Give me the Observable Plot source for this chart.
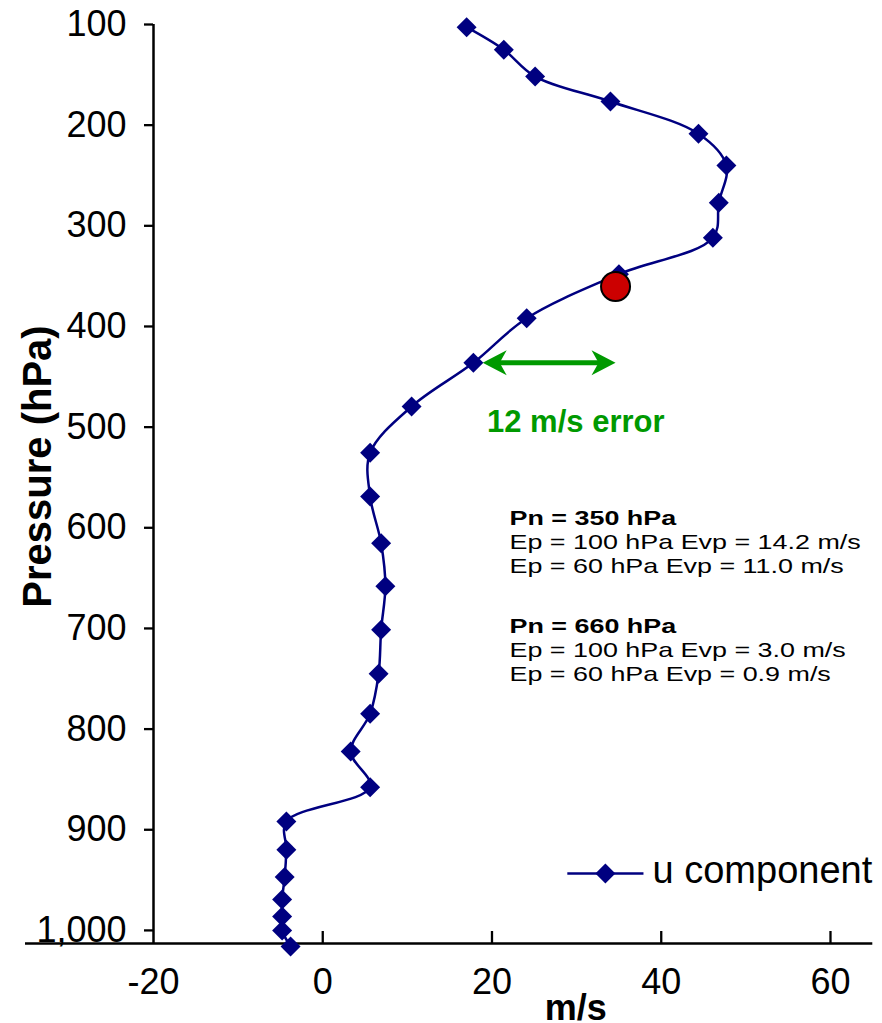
<!DOCTYPE html>
<html><head><meta charset="utf-8">
<script src="https://cdn.jsdelivr.net/npm/d3@7"></script>
<script src="https://cdn.jsdelivr.net/npm/@observablehq/plot@0.6"></script>
<style>html,body{margin:0;padding:0;background:#fff}svg{display:block}</style>
</head><body><div id="chart"></div>
<script>
// ---- data ----
const pressure = [102.7, 125.1, 151.7, 176.5, 208.6, 240.1, 277.1, 311.9, 348, 391.8, 436.1, 479.5, 525.5, 568.9, 615.3, 658, 701.3, 745, 784.7, 822.2, 857.7, 891.7, 919.8, 947, 969.2, 986.1, 1000, 1015.9];
const uComponent = [17.0, 21.4, 25.1, 34.0, 44.4, 47.7, 46.8, 46.1, 35.0, 24.1, 17.8, 10.5, 5.6, 5.6, 6.9, 7.4, 6.9, 6.6, 5.6, 3.3, 5.6, -4.3, -4.3, -4.5, -4.8, -4.8, -4.8, -3.8];
const xTicks = [-20, 0, 20, 40, 60];
const yTicks = [100, 200, 300, 400, 500, 600, 700, 800, 900, 1000];
const xDomain = [-20, 65];
const yDomain = [100, 1013];
const highlightU = [34.6];
const highlightP = [360.3];
const errorFromU = 18.9, errorToU = 34.6, errorP = 436;
const errorLabel = "12 m/s error";
const noteBlock1 = ["Pn = 350 hPa", "Ep = 100 hPa Evp = 14.2 m/s", "Ep = 60 hPa Evp = 11.0 m/s"];
const noteBlock2 = ["Pn = 660 hPa", "Ep = 100 hPa Evp = 3.0 m/s", "Ep = 60 hPa Evp = 0.9 m/s"];
const seriesName = "u component";
const xLabel = "m/s";
const yLabel = "Pressure (hPa)";

const data = pressure.map((p, i) => ({p, u: uComponent[i]}));
const navy = "#000080", green = "#009900";
const font = "'Liberation Sans', Arial, Helvetica, sans-serif";

const arrowRight = {draw(c) { c.moveTo(0, 0); c.lineTo(-24, -12.5); c.lineTo(-17, 0); c.lineTo(-24, 12.5); c.closePath(); }};
const arrowLeft = {draw(c) { c.moveTo(0, 0); c.lineTo(24, -12.5); c.lineTo(17, 0); c.lineTo(24, 12.5); c.closePath(); }};

const noteMarks = [];
const notePositions = [{block: noteBlock1, p: 597.7}, {block: noteBlock2, p: 705}];
for (const {block, p} of notePositions) {
  block.forEach((t, i) => {
    noteMarks.push(Plot.text([t], {x: 22.07, y: p, text: d => d, textAnchor: "start", lineAnchor: "bottom",
      dy: i * 24, fontSize: 21, fontWeight: i === 0 ? "bold" : "normal", fill: "black"}));
  });
}

const svg = Plot.plot({
  width: 882, height: 1023,
  marginLeft: 153, marginRight: 9.7, marginTop: 24, marginBottom: 80,
  style: {fontFamily: font, background: "white", color: "black", overflow: "visible"},
  x: {domain: xDomain, label: null},
  y: {domain: yDomain, reverse: true, label: null},
  marks: [
    Plot.axisY(yTicks, {anchor: "left", tickSize: 9, tickPadding: 18, fontSize: 36, tickFormat: d3.format(","), strokeWidth: 2.3, label: null}),
    Plot.axisX(xTicks, {anchor: "bottom", tickSize: 0, tickPadding: 25, fontSize: 36, tickFormat: d => String(d), label: null}),
    Plot.ruleX(xTicks.filter(v => v !== xDomain[0]), {y1: yDomain[1], y2: yDomain[1], insetTop: -12, stroke: "black", strokeWidth: 2.3}),
    Plot.ruleY([yDomain[1]], {insetLeft: -128, stroke: "black", strokeWidth: 2.5}),
    Plot.ruleX([xDomain[0]], {stroke: "black", strokeWidth: 2.5}),
    Plot.line(data, {x: "u", y: "p", curve: "catmull-rom", stroke: navy, strokeWidth: 2.5}),
    Plot.dot(data, {x: "u", y: "p", symbol: "diamond2", r: 9, fill: navy, stroke: "none"}),
    Plot.dot(highlightU, {x: d => d, y: (d, i) => highlightP[i], r: 14.5, fill: "#cc0000", stroke: "black", strokeWidth: 2}),
    Plot.ruleY([errorP], {x1: errorFromU, x2: errorToU, insetLeft: 14, insetRight: 14, stroke: green, strokeWidth: 5}),
    Plot.dot([errorToU], {x: d => d, y: errorP, symbol: arrowRight, fill: green, stroke: "none"}),
    Plot.dot([errorFromU], {x: d => d, y: errorP, symbol: arrowLeft, fill: green, stroke: "none"}),
    Plot.text([errorLabel], {x: 29.9, y: 505.3, text: d => d, textAnchor: "middle", lineAnchor: "bottom", fontSize: 31, fontWeight: "bold", fill: green}),
    ...noteMarks,
    // legend
    Plot.link([seriesName], {x1: 28.9, x2: 37.9, y1: 943.4, y2: 943.4, stroke: navy, strokeWidth: 2.5}),
    Plot.dot([seriesName], {x: 33.4, y: 943.4, symbol: "diamond2", r: 9, fill: navy, stroke: "none"}),
    Plot.text([seriesName], {x: 38.97, y: 953.3, text: d => d, textAnchor: "start", lineAnchor: "bottom", fontSize: 38, fill: "black"}),
    // axis titles
    Plot.text([xLabel], {x: 29.9, frameAnchor: "bottom", dy: 76, text: d => d, textAnchor: "middle", lineAnchor: "bottom", fontSize: 36, fontWeight: "bold", fill: "black"}),
    Plot.text([yLabel], {frameAnchor: "left", dx: -103, dy: -17.5, rotate: -90, text: d => d, textAnchor: "middle", lineAnchor: "bottom", fontSize: 40, fontWeight: "bold", fill: "black"})
  ]
});
document.getElementById("chart").appendChild(svg);

// the note texts are drawn horizontally stretched in the reference
const noteSet = new Set([...noteBlock1, ...noteBlock2]);
d3.select(svg).selectAll("text").each(function () {
  if (noteSet.has(this.textContent)) {
    const w = this.getComputedTextLength();
    this.setAttribute("textLength", (w * 1.28).toFixed(1));
    this.setAttribute("lengthAdjust", "spacingAndGlyphs");
  }
});
</script></body></html>
